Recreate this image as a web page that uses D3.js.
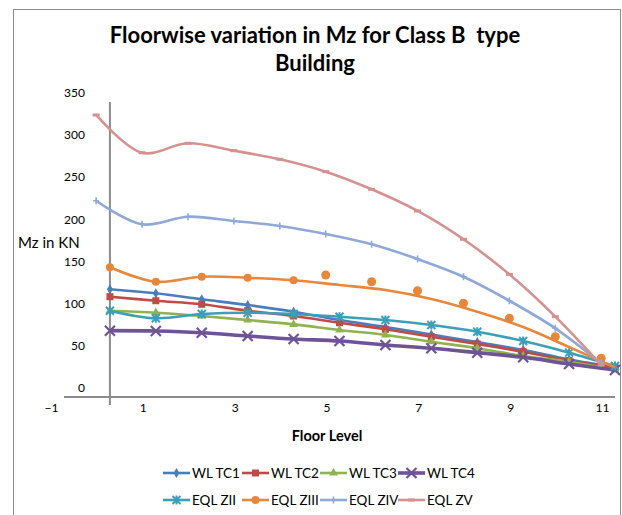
<!DOCTYPE html>
<html lang="en">
  <head>
    <meta charset="UTF-8" />
    <title>Floorwise variation in Mz</title>
    <script src="https://d3js.org/d3.v7.min.js"></script>
    <style>
      body {
        margin: 0;
        padding: 0;
        background: #ffffff;
        font-family: Lato, "Open Sans", Arial, sans-serif;
      }
      text {
        white-space: pre;
      }
    </style>
  </head>
  <body>
    <div id="chart"></div>
    <script>
      const width = 622;
      const height = 515;

      // floor levels (x) for the WL / ZII / ZIII line series
      const floors = [0, 1, 2, 3, 4, 5, 6, 7, 8, 9, 10, 11];
      // ZIV and ZV are plotted slightly left of the floor numbers
      const shiftedFloors = [-0.3, 0.7, 1.7, 2.7, 3.7, 4.7, 5.7, 6.7, 7.7, 8.7, 9.7, 10.7];
      // loose orange points of EQL ZIII
      const zIIIDotFloors = [4.7, 5.7, 6.7, 7.7, 8.7, 9.7, 10.7];

      const wlTC1 = [127.8, 123.0, 115.9, 109.1, 101.2, 91.3, 83.0, 74.1, 65.2, 55.8, 44.5, 35.6];
      const wlTC2 = [119.0, 114.2, 110.0, 102.4, 96.1, 88.1, 80.3, 71.5, 62.9, 53.7, 43.1, 35.2];
      const wlTC3 = [102.4, 100.0, 96.1, 91.3, 86.2, 79.5, 73.6, 65.6, 57.8, 48.6, 41.9, 32.0];
      const wlTC4 = [78.7, 78.3, 76.3, 72.4, 68.8, 66.4, 61.7, 57.8, 52.6, 47.1, 39.2, 32.0];
      const eqlZII = [102.4, 93.4, 98.5, 100.0, 98.5, 95.3, 91.3, 85.4, 77.5, 66.4, 52.6, 36.8];
      const eqlZIII = [153.9, 136.8, 142.7, 141.5, 138.5, 132.9, 126.9, 116.3, 101.2, 83.0, 59.3, 35.0];
      const eqlZIIIDots = [144.7, 136.8, 126.1, 111.2, 93.4, 71.5, 46.0];
      const eqlZIV = [232.9, 204.9, 213.9, 208.8, 202.9, 193.4, 181.2, 163.7, 142.7, 114.2, 81.5, 39.9];
      const eqlZV = [334.6, 289.8, 301.0, 292.2, 282.0, 267.3, 246.4, 220.7, 187.1, 145.5, 95.3, 38.0];

      const xTicks = [-1, 1, 3, 5, 7, 9, 11];
      const yTicks = [0, 50, 100, 150, 200, 250, 300, 350];

      const series = [
        { name: "WL TC1", xs: floors, ys: wlTC1, color: "#4a7ebb", marker: "diamond", w: 2.6 },
        { name: "WL TC2", xs: floors, ys: wlTC2, color: "#be4b48", marker: "square", w: 2.6 },
        { name: "WL TC3", xs: floors, ys: wlTC3, color: "#8fb350", marker: "triangle", w: 2.6 },
        { name: "WL TC4", xs: floors, ys: wlTC4, color: "#6e5496", marker: "x", w: 3.6 },
        { name: "EQL ZII", xs: floors, ys: eqlZII, color: "#3c9fb8", marker: "star", w: 2.6 },
        { name: "EQL ZIII", xs: floors, ys: eqlZIII, color: "#e6873a", marker: "circle", w: 2.6, marked: 5 },
        { name: "EQL ZIV", xs: shiftedFloors, ys: eqlZIV, color: "#8ea9d6", marker: "plus", w: 2.6 },
        { name: "EQL ZV", xs: shiftedFloors, ys: eqlZV, color: "#d4918f", marker: "dash", w: 2.6 },
      ];

      const x = d3.scaleLinear().domain([-1, 11]).range([64, 615]);
      const y = d3.scaleLinear().domain([0, 350]).range([397, 102]);

      const svg = d3
        .select("#chart")
        .append("svg")
        .attr("width", width)
        .attr("height", height);

      // outer frame
      svg
        .append("rect")
        .attr("x", 13.5)
        .attr("y", 9.5)
        .attr("width", 607)
        .attr("height", 530)
        .attr("fill", "none")
        .attr("stroke", "#8c8c8c")
        .attr("stroke-width", 1);

      // title
      const title = svg
        .append("text")
        .attr("text-anchor", "middle")
        .attr("font-weight", "bold")
        .attr("font-size", "22px")
        .attr("fill", "#000");
      title.append("tspan").attr("x", 315).attr("y", 43).text("Floorwise variation in Mz for Class B  type");
      title.append("tspan").attr("x", 315).attr("y", 71).text("Building");

      // axes (labels in the reference sit up/left of their ticks)
      const xAxis = svg
        .append("g")
        .attr("transform", `translate(0,${y(0)})`)
        .call(d3.axisBottom(x).tickValues(xTicks).tickSize(0).tickPadding(6));
      xAxis.select(".domain").remove();
      xAxis
        .selectAll("text")
        .attr("dx", -13)
        .attr("font-family", "Lato, sans-serif")
        .attr("font-size", "12px")
        .attr("fill", "#000");

      const yAxis = svg
        .append("g")
        .attr("transform", `translate(${x(0) - 25},0)`)
        .call(d3.axisLeft(y).tickValues(yTicks).tickSize(0).tickPadding(0));
      yAxis.select(".domain").remove();
      yAxis
        .selectAll("text")
        .attr("dy", "-0.45em")
        .attr("font-family", "Lato, sans-serif")
        .attr("font-size", "12px")
        .attr("fill", "#000");

      svg
        .append("line")
        .attr("x1", x(-1))
        .attr("x2", x(11))
        .attr("y1", y(0))
        .attr("y2", y(0))
        .attr("stroke", "#8c8c8c")
        .attr("stroke-width", 2);
      svg
        .append("line")
        .attr("x1", x(0))
        .attr("x2", x(0))
        .attr("y1", y(350))
        .attr("y2", y(0) + 8)
        .attr("stroke", "#8c8c8c")
        .attr("stroke-width", 2);

      svg
        .append("text")
        .attr("x", 18)
        .attr("y", 248)
        .attr("font-size", "15px")
        .text("Mz in KN");
      svg
        .append("text")
        .attr("x", 327)
        .attr("y", 441)
        .attr("text-anchor", "middle")
        .attr("font-weight", "bold")
        .attr("font-size", "14.5px")
        .text("Floor Level");

      // marker shapes
      function drawMarker(g, type, color, cx, cy) {
        const m = g.append("g").attr("transform", `translate(${cx},${cy})`);
        if (type === "diamond") {
          m.append("path").attr("d", d3.symbol(d3.symbolDiamond, 30)()).attr("fill", color);
        } else if (type === "square") {
          m.append("rect").attr("x", -3.5).attr("y", -3.5).attr("width", 7).attr("height", 7).attr("fill", color);
        } else if (type === "triangle") {
          m.append("path").attr("d", d3.symbol(d3.symbolTriangle, 34)()).attr("fill", color);
        } else if (type === "circle") {
          m.append("circle").attr("r", 4).attr("fill", color);
        } else if (type === "x") {
          m.append("path")
            .attr("d", "M-5,-5L5,5M-5,5L5,-5")
            .attr("stroke", color)
            .attr("stroke-width", 2.2)
            .attr("fill", "none");
        } else if (type === "star") {
          m.append("path")
            .attr("d", "M-4,-4L4,4M-4,4L4,-4M0,-4.5L0,4.5")
            .attr("stroke", color)
            .attr("stroke-width", 2)
            .attr("fill", "none");
        } else if (type === "plus") {
          m.append("path")
            .attr("d", "M-3,0L3,0M0,-3.5L0,3.5")
            .attr("stroke", color)
            .attr("stroke-width", 1.6)
            .attr("fill", "none");
        } else if (type === "dash") {
          m.append("rect").attr("x", -3.5).attr("y", -1.5).attr("width", 7).attr("height", 3).attr("fill", color);
        }
      }

      const line = d3
        .line()
        .x((d) => x(d[0]))
        .y((d) => y(d[1]))
        .curve(d3.curveCatmullRom.alpha(0.5));

      const plot = svg.append("g");
      series.forEach((s) => {
        const pts = s.xs.map((v, i) => [v, s.ys[i]]);
        plot
          .append("path")
          .datum(pts)
          .attr("d", line)
          .attr("fill", "none")
          .attr("stroke", s.color)
          .attr("stroke-width", s.w)
          .attr("stroke-linejoin", "round");
        const n = s.marked || pts.length;
        pts.slice(0, n).forEach((p) => drawMarker(plot, s.marker, s.color, x(p[0]), y(p[1])));
        if (s.name === "EQL ZIII") {
          zIIIDotFloors.forEach((f, i) => {
            plot
              .append("circle")
              .attr("cx", x(f))
              .attr("cy", y(eqlZIIIDots[i]))
              .attr("r", 4.5)
              .attr("fill", s.color);
          });
        }
      });

      // legend, two rows of four
      const legendX = [163, 242, 320, 398];
      const legendY = [473, 500];
      series.forEach((s, i) => {
        const lx = legendX[i % 4];
        const ly = legendY[Math.floor(i / 4)];
        const g = svg.append("g");
        g.append("line")
          .attr("x1", lx)
          .attr("x2", lx + 27)
          .attr("y1", ly)
          .attr("y2", ly)
          .attr("stroke", s.color)
          .attr("stroke-width", s.w);
        drawMarker(g, s.marker, s.color, lx + 13.5, ly);
        g.append("text")
          .attr("x", lx + 29)
          .attr("y", ly + 5)
          .attr("font-size", "13.5px")
          .text(s.name);
      });
    </script>
  </body>
</html>
